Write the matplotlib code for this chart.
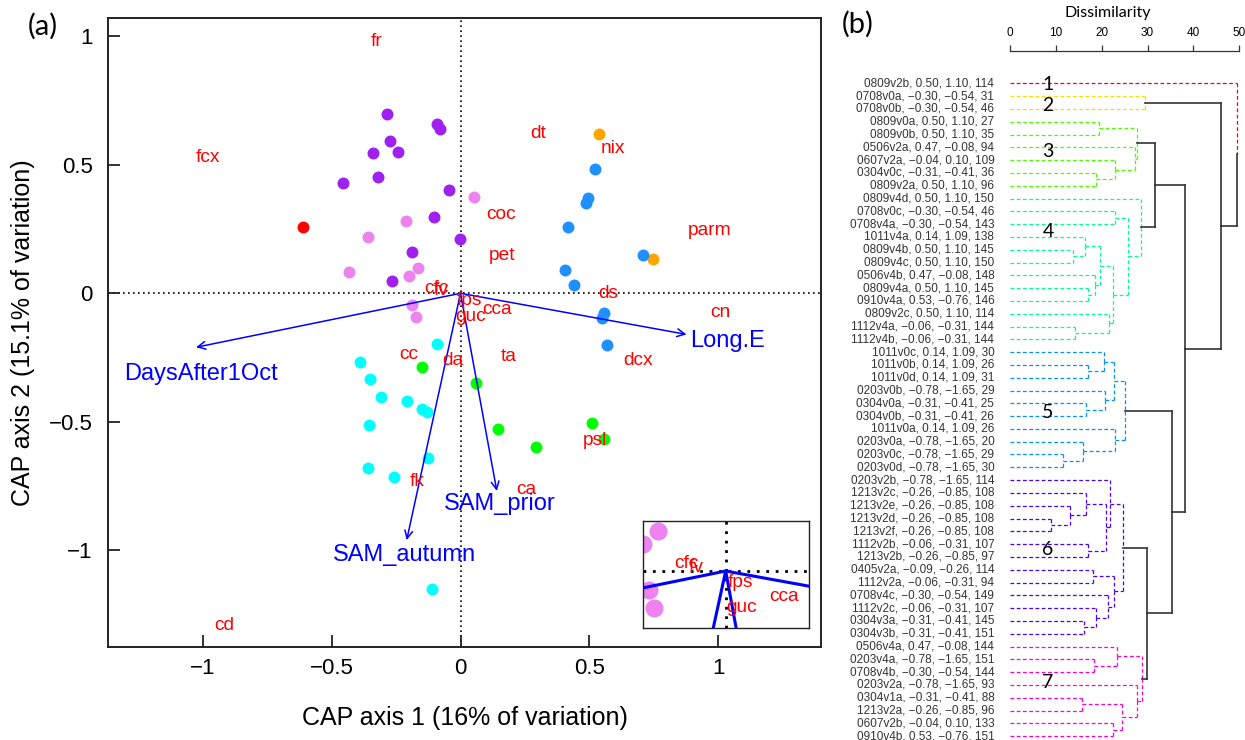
import matplotlib
matplotlib.use('Agg')
import matplotlib.pyplot as plt

plt.rcParams['font.family'] = ['Liberation Sans', 'DejaVu Sans']

# ---------------- Panel (a) data: CAP site scores ----------------
purple_x = [-0.285, -0.274, -0.340, -0.243, -0.320, -0.456, -0.090, -0.080, -0.046, -0.103, -0.001, -0.190, -0.265]
purple_y = [0.697, 0.592, 0.545, 0.549, 0.452, 0.429, 0.658, 0.639, 0.402, 0.296, 0.210, 0.162, 0.048]
violet_x = [-0.213, -0.359, -0.434, -0.201, -0.164, -0.188, -0.174, 0.052]
violet_y = [0.281, 0.220, 0.084, 0.067, 0.097, -0.046, -0.091, 0.376]
red_x = [-0.613]
red_y = [0.257]
orange_x = [0.539, 0.746]
orange_y = [0.620, 0.133]
blue_x = [0.524, 0.494, 0.487, 0.417, 0.710, 0.406, 0.441, 0.556, 0.548, 0.568]
blue_y = [0.484, 0.372, 0.350, 0.259, 0.149, 0.091, 0.032, -0.078, -0.097, -0.201]
cyan_x = [-0.090, -0.389, -0.351, -0.309, -0.207, -0.150, -0.131, -0.357, -0.126, -0.359, -0.258, -0.112]
cyan_y = [-0.199, -0.266, -0.332, -0.402, -0.419, -0.450, -0.461, -0.512, -0.641, -0.681, -0.714, -1.151]
green_x = [-0.151, 0.059, 0.146, 0.294, 0.512, 0.559]
green_y = [-0.286, -0.350, -0.529, -0.597, -0.506, -0.567]

# species scores (labels)
species = ['fr', 'fcx', 'dt', 'nix', 'coc', 'parm', 'pet', 'ds', 'cn', 'cca', 'ta', 'da',
           'dcx', 'psl', 'ca', 'cc', 'fk', 'cd', 'cfc', 'fv', 'fps', 'guc']
species_x = [-0.324, -0.979, 0.300, 0.593, 0.157, 0.969, 0.162, 0.574, 1.008, 0.143, 0.188, -0.028,
             0.691, 0.522, 0.254, -0.200, -0.168, -0.917, -0.095, -0.073, 0.036, 0.038]
species_y = [0.978, 0.529, 0.622, 0.564, 0.307, 0.244, 0.146, 0.000, -0.075, -0.063, -0.247, -0.260,
             -0.262, -0.571, -0.763, -0.240, -0.733, -1.291, 0.018, 0.009, -0.027, -0.090]

# environmental vectors
vectors = ['DaysAfter1Oct', 'Long.E', 'SAM_autumn', 'SAM_prior']
vec_x = [-1.027, 0.878, -0.209, 0.141]
vec_y = [-0.210, -0.160, -0.960, -0.769]
vec_label_x = [-1.008, 1.036, -0.218, 0.153]
vec_label_y = [-0.314, -0.184, -1.018, -0.820]

xticks_a = [-1, -0.5, 0, 0.5, 1]
yticks_a = [-1, -0.5, 0, 0.5, 1]
xtick_labels_a = ['\u22121', '\u22120.5', '0', '0.5', '1']
ytick_labels_a = ['\u22121', '\u22120.5', '0', '0.5', '1']

# ---------------- Panel (b) data: dendrogram ----------------
leaf_labels = [
    '0809v2b, 0.50, 1.10, 114', '0708v0a, \u22120.30, \u22120.54, 31', '0708v0b, \u22120.30, \u22120.54, 46',
    '0809v0a, 0.50, 1.10, 27', '0809v0b, 0.50, 1.10, 35', '0506v2a, 0.47, \u22120.08, 94',
    '0607v2a, \u22120.04, 0.10, 109', '0304v0c, \u22120.31, \u22120.41, 36', '0809v2a, 0.50, 1.10, 96',
    '0809v4d, 0.50, 1.10, 150', '0708v0c, \u22120.30, \u22120.54, 46', '0708v4a, \u22120.30, \u22120.54, 143',
    '1011v4a, 0.14, 1.09, 138', '0809v4b, 0.50, 1.10, 145', '0809v4c, 0.50, 1.10, 150',
    '0506v4b, 0.47, \u22120.08, 148', '0809v4a, 0.50, 1.10, 145', '0910v4a, 0.53, \u22120.76, 146',
    '0809v2c, 0.50, 1.10, 114', '1112v4a, \u22120.06, \u22120.31, 144', '1112v4b, \u22120.06, \u22120.31, 144',
    '1011v0c, 0.14, 1.09, 30', '1011v0b, 0.14, 1.09, 26', '1011v0d, 0.14, 1.09, 31',
    '0203v0b, \u22120.78, \u22121.65, 29', '0304v0a, \u22120.31, \u22120.41, 25', '0304v0b, \u22120.31, \u22120.41, 26',
    '1011v0a, 0.14, 1.09, 26', '0203v0a, \u22120.78, \u22121.65, 20', '0203v0c, \u22120.78, \u22121.65, 29',
    '0203v0d, \u22120.78, \u22121.65, 30', '0203v2b, \u22120.78, \u22121.65, 114', '1213v2c, \u22120.26, \u22120.85, 108',
    '1213v2e, \u22120.26, \u22120.85, 108', '1213v2d, \u22120.26, \u22120.85, 108', '1213v2f, \u22120.26, \u22120.85, 108',
    '1112v2b, \u22120.06, \u22120.31, 107', '1213v2b, \u22120.26, \u22120.85, 97', '0405v2a, \u22120.09, \u22120.26, 114',
    '1112v2a, \u22120.06, \u22120.31, 94', '0708v4c, \u22120.30, \u22120.54, 149', '1112v2c, \u22120.06, \u22120.31, 107',
    '0304v3a, \u22120.31, \u22120.41, 145', '0304v3b, \u22120.31, \u22120.41, 151', '0506v4a, 0.47, \u22120.08, 144',
    '0203v4a, \u22120.78, \u22121.65, 151', '0708v4b, \u22120.30, \u22120.54, 144', '0203v2a, \u22120.78, \u22121.65, 93',
    '0304v1a, \u22120.31, \u22120.41, 88', '1213v2a, \u22120.26, \u22120.85, 96', '0607v2b, \u22120.04, 0.10, 133',
    '0910v4b, 0.53, \u22120.76, 151']

# hclust-style merge table: negative = leaf (1-based, in plotted order), positive = earlier merge row
merge_a = [-2, -4, -8, -7, -6, 2, -11, -14, -13, -17, -16, 9, -20, -19, 12, 7, -10,
           -23, -22, -26, -25, 19, -30, -29, -28, 22,
           -35, -34, -33, -37, 29, -32, -39, -43, -42, -41, 33, 32,
           -46, -45, -49, -51, 41, -48, 40,
           38, 26, 6, 48, 1, -1]
merge_b = [-3, -5, -9, 3, 4, 5, -12, -15, 8, -18, 10, 11, -21, 13, 14, 15, 16,
           -24, 18, -27, 20, 21, -31, 23, 24, 25,
           -36, 27, 28, -38, 30, 31, -40, -44, 34, 35, 36, 37,
           -47, 39, -50, -52, 42, 43, 44,
           45, 46, 17, 47, 49, 50]
merge_h = [29.4, 19.5, 18.7, 23.0, 27.2, 27.8, 22.9, 13.7, 16.4, 16.9, 18.5, 19.6, 14.2, 21.6, 22.5, 25.7, 28.5,
           17.1, 20.6, 16.5, 20.7, 22.7, 11.6, 16.0, 23.0, 25.1,
           8.9, 13.1, 16.5, 16.9, 20.9, 21.9, 18.2, 16.1, 18.7, 21.3, 22.7, 24.6,
           18.4, 23.3, 15.6, 22.4, 24.5, 27.6, 28.7,
           29.9, 35.4, 31.6, 38.1, 46.1, 49.6]
cluster_sizes = [1, 2, 6, 12, 10, 13, 8]
cluster_names = ['1', '2', '3', '4', '5', '6', '7']
cluster_colors = ['#FF0000', '#FFDB00', '#49FF00', '#00FF92', '#0092FF', '#4900FF', '#FF00DB']
dis_ticks = [0, 10, 20, 30, 40, 50]

# ---------------- figure ----------------
W, H = 1245, 740
fig = plt.figure(figsize=(W / 100, H / 100), dpi=100)
fig.patch.set_facecolor('white')


def fbox(x0, y0, x1, y1):
    return [x0 / W, 1 - y1 / H, (x1 - x0) / W, (y1 - y0) / H]


ax = fig.add_axes(fbox(108, 18, 821, 647))
groups = [(purple_x, purple_y, '#A020F0'), (violet_x, violet_y, '#EE82EE'), (red_x, red_y, '#FF0000'),
          (orange_x, orange_y, '#FFA500'), (blue_x, blue_y, '#1E90FF'), (cyan_x, cyan_y, '#00FFFF'),
          (green_x, green_y, '#00FF00')]


def draw_content(a, msize, dot_lw, dot_pat, vec_lw, heads):
    a.axhline(0, color='black', lw=dot_lw, linestyle=(0, dot_pat), zorder=1)
    a.axvline(0, color='black', lw=dot_lw, linestyle=(0, dot_pat), zorder=1)
    for gx, gy, col in groups:
        a.scatter(gx, gy, s=msize ** 2, color=col, linewidths=0, zorder=2)
    for vx, vy in zip(vec_x, vec_y):
        if heads:
            a.annotate('', xy=(vx, vy), xytext=(0, 0),
                       arrowprops=dict(arrowstyle='->', color='#0000FF', lw=vec_lw,
                                       shrinkA=0, shrinkB=0, mutation_scale=14), zorder=3)
        else:
            a.plot([0, vx], [0, vy], color='#0000FF', lw=vec_lw, zorder=3, solid_capstyle='butt')
    for name, sx, sy in zip(species, species_x, species_y):
        a.text(sx, sy, name, color='#FF0000', fontsize=13.8, ha='center', va='center',
               zorder=4, clip_on=True)


draw_content(ax, 8.6, 1.2, (1, 2), 1.1, True)
for name, lx, ly in zip(vectors, vec_label_x, vec_label_y):
    ax.text(lx, ly, name, color='#0000FF', fontsize=17, ha='center', va='center', zorder=5)

ax.set_xlim(-1.369, 1.400)
ax.set_ylim(-1.376, 1.071)
ax.set_xticks(xticks_a)
ax.set_xticklabels(xtick_labels_a)
ax.set_yticks(yticks_a)
ax.set_yticklabels(ytick_labels_a)
ax.tick_params(direction='in', length=8.5, width=1.3, labelsize=16, color='#222222')
ax.tick_params(axis='y', pad=11)
ax.tick_params(axis='x', pad=8)
for sp in ax.spines.values():
    sp.set_linewidth(1.4)
    sp.set_color('#222222')
ax.set_xlabel('CAP axis 1 (16% of variation)', fontsize=18)
ax.set_ylabel('CAP axis 2 (15.1% of variation)', fontsize=18)
ax.xaxis.set_label_coords(0.5, -0.113)
ax.xaxis.label.set_va('center')
ax.yaxis.set_label_coords(-0.119, 0.5)
ax.yaxis.label.set_va('center')

# inset zoom near origin
axi = fig.add_axes(fbox(643.3, 520.7, 809.3, 628.3))
draw_content(axi, 13, 2.0, (1, 2.4), 2.2, False)
axi.set_xlim(-0.201, 0.204)
axi.set_ylim(-0.140, 0.123)
axi.set_xticks([])
axi.set_yticks([])
for sp in axi.spines.values():
    sp.set_linewidth(1.0)
    sp.set_color('#222222')

fig.text(43 / W, 1 - 26 / H, '(a)', fontsize=21, ha='center', va='center', family=['Lato', 'DejaVu Sans'])
fig.text(858 / W, 1 - 24 / H, '(b)', fontsize=21, ha='center', va='center', family=['Lato', 'DejaVu Sans'])

# ---------------- dendrogram ----------------
n_leaf = len(leaf_labels)
y_top_px, y_step_px = 83.3, 12.8
y0 = 1 + (60 - y_top_px) / y_step_px
y1 = 1 + (740 - y_top_px) / y_step_px
axd = fig.add_axes(fbox(1010, 60, 1239.3, 740))
axd.set_xlim(0, 50)
axd.set_ylim(y1, y0)

leaf_cluster = []
for ci, sz in enumerate(cluster_sizes):
    leaf_cluster += [ci] * sz

node_h, node_y, node_leaves = {}, {}, {}


def info(ref):
    if ref < 0:
        return 0.0, float(-ref), {-ref}
    return node_h[ref], node_y[ref], node_leaves[ref]


for k, (a, b, h) in enumerate(zip(merge_a, merge_b, merge_h), start=1):
    _, ya, la = info(a)
    _, yb, lb = info(b)
    node_h[k] = h
    node_y[k] = (ya + yb) / 2
    node_leaves[k] = la | lb


def node_color(k):
    cl = {leaf_cluster[i - 1] for i in node_leaves[k]}
    return cluster_colors[cl.pop()] if len(cl) == 1 else None


for k, (a, b, h) in enumerate(zip(merge_a, merge_b, merge_h), start=1):
    pc = node_color(k)
    for c in (a, b):
        hc, yc, _ = info(c)
        col = pc
        if col is None and c < 0:
            col = cluster_colors[leaf_cluster[-c - 1]]
        if col is None:
            kw = dict(color='#333333', lw=1.2, linestyle='-')
        else:
            kw = dict(color=col, lw=0.9, linestyle=(0, (3, 2)))
        axd.plot([hc, h], [yc, yc], **kw)
        axd.plot([h, h], [yc, node_y[k]], **kw)

for i, lab in enumerate(leaf_labels, start=1):
    axd.text(-3.42, i, lab, fontsize=8.5, color='#333333', ha='right', va='center', clip_on=False)

cluster_label_y = [1.13, 2.70, 6.34, 12.6, 26.7, 37.4, 47.8]
for name, cy in zip(cluster_names, cluster_label_y):
    axd.text(8.3, cy, name, fontsize=14, ha='center', va='center', color='black',
             family=['Lato', 'DejaVu Sans'])

for s in ['left', 'right', 'bottom']:
    axd.spines[s].set_visible(False)
axd.spines['top'].set_position(('outward', 6.7))
axd.spines['top'].set_bounds(0, 50)
axd.spines['top'].set_linewidth(0.9)
axd.spines['top'].set_color('#333333')
axd.set_yticks([])
axd.xaxis.tick_top()
axd.set_xticks(dis_ticks)
axd.tick_params(axis='x', direction='out', length=4.3, width=0.9, labelsize=8.5, pad=4, color='#333333')
axd.patch.set_alpha(0)
fig.text(1107.7 / W, 1 - 13.3 / H, 'Dissimilarity', fontsize=11.5, ha='center', va='center',
         family=['Lato', 'DejaVu Sans'])

fig.savefig('out.png', dpi=100, facecolor='white')
